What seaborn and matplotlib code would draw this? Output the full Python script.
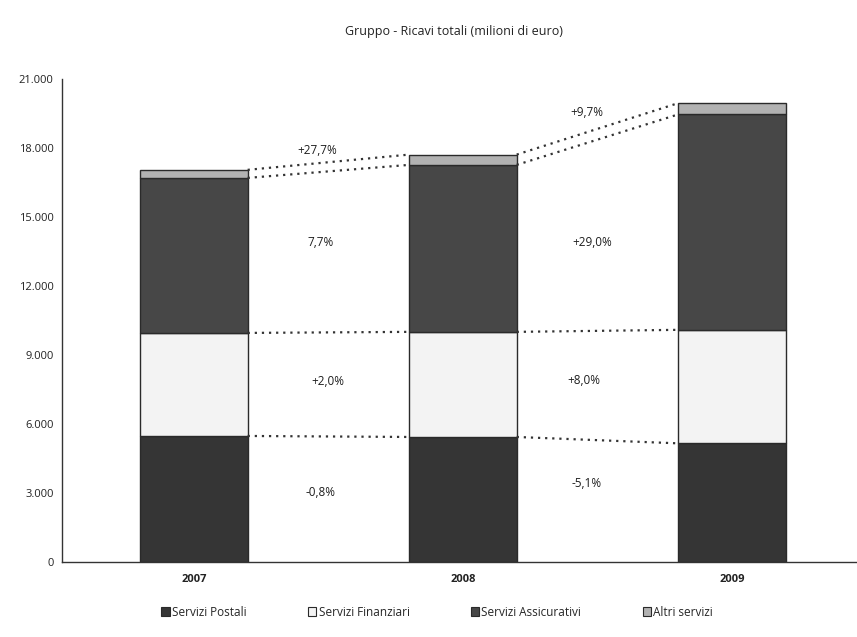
import matplotlib
matplotlib.use("Agg")
import matplotlib.pyplot as plt
from matplotlib.patches import Patch
import numpy as np
import pandas as pd
import seaborn as sns

years = ["2007", "2008", "2009"]
postali = [5480, 5436, 5159]
finanziari = [4480, 4570, 4935]
assicurativi = [6740, 7260, 9365]
altri = [350, 447, 490]

series_names = ["Servizi Postali", "Servizi Finanziari", "Servizi Assicurativi", "Altri servizi"]
series_colors = ["#353535", "#f3f3f3", "#474747", "#b2b2b2"]

# growth labels between consecutive years, one row per series
growth_labels = [
    ["-0,8%", "-5,1%"],
    ["+2,0%", "+8,0%"],
    ["7,7%", "+29,0%"],
    ["+27,7%", "+9,7%"],
]

yticks = [0, 3000, 6000, 9000, 12000, 15000, 18000, 21000]
ytick_labels = ["0", "3.000", "6.000", "9.000", "12.000", "15.000", "18.000", "21.000"]

sns.set_theme(style="white")
plt.rcParams["font.family"] = ["Open Sans", "DejaVu Sans"]

fig = plt.figure(figsize=(8.57, 6.37), dpi=100)
ax = fig.add_axes([62 / 857, 1 - 562 / 637, 1 - 62 / 857, (562 - 79) / 637])

df = pd.DataFrame({"anno": years, "Servizi Postali": postali,
                   "Servizi Finanziari": finanziari,
                   "Servizi Assicurativi": assicurativi,
                   "Altri servizi": altri})

bar_width = 0.4
bottom = np.zeros(len(years))
tops = []
for name, col in zip(series_names, series_colors):
    vals = df[name].to_numpy(dtype=float)
    sns.barplot(data=df, x="anno", y=name, bottom=bottom, color=col,
                width=bar_width, edgecolor="#2a2a2a", linewidth=1.0,
                saturation=1, ax=ax, errorbar=None)
    bottom = bottom + vals
    tops.append(bottom.copy())

# dotted connectors between segment tops
dot_style = dict(color="#333333", linestyle=(0, (1, 2.2)), linewidth=1.6)
for k, t in enumerate(tops):
    for i in range(len(years) - 1):
        ax.plot([i + bar_width / 2, i + 1 - bar_width / 2], [t[i], t[i + 1]], **dot_style)

# growth labels
label_pos = [
    [(0.47, 3040), (1.46, 3430)],
    [(0.50, 7850), (1.45, 7900)],
    [(0.47, 13870), (1.48, 13870)],
    [(0.46, 17870), (1.46, 19560)],
]
for row, pos in zip(growth_labels, label_pos):
    for txt, (x, y) in zip(row, pos):
        ax.text(x, y, txt, ha="center", va="center", fontsize=8.5, color="#1e1e1e")

ax.set_xlim(-0.49, 2.465)
ax.set_ylim(0, 21000)
ax.set_yticks(yticks)
ax.set_yticklabels(ytick_labels, fontsize=8, color="#222222")
ax.set_xticks(range(len(years)))
ax.set_xticklabels(years, fontsize=8, color="#222222", fontweight="bold")
ax.set_xlabel("")
ax.set_ylabel("")
ax.tick_params(axis="y", direction="out", length=4, width=1, color="#333333", pad=2)
ax.tick_params(axis="x", length=0, pad=9)
for side in ["top", "right"]:
    ax.spines[side].set_visible(False)
for side in ["left", "bottom"]:
    ax.spines[side].set_color("#333333")
    ax.spines[side].set_linewidth(1.0)

fig.text(0.53, 1 - 32 / 637, "Gruppo - Ricavi totali (milioni di euro)",
         ha="center", va="center", fontsize=9, color="#222222")

handles = [Patch(facecolor=c, edgecolor="#2a2a2a", linewidth=0.8) for c in series_colors]
fig.legend(handles, series_names, loc="center", bbox_to_anchor=(0.51, 1 - 612 / 637),
           ncol=4, frameon=False, fontsize=8.5, handlelength=0.7, handleheight=0.7,
           handletextpad=0.2, columnspacing=5.2)

fig.savefig("out.png", dpi=100)
